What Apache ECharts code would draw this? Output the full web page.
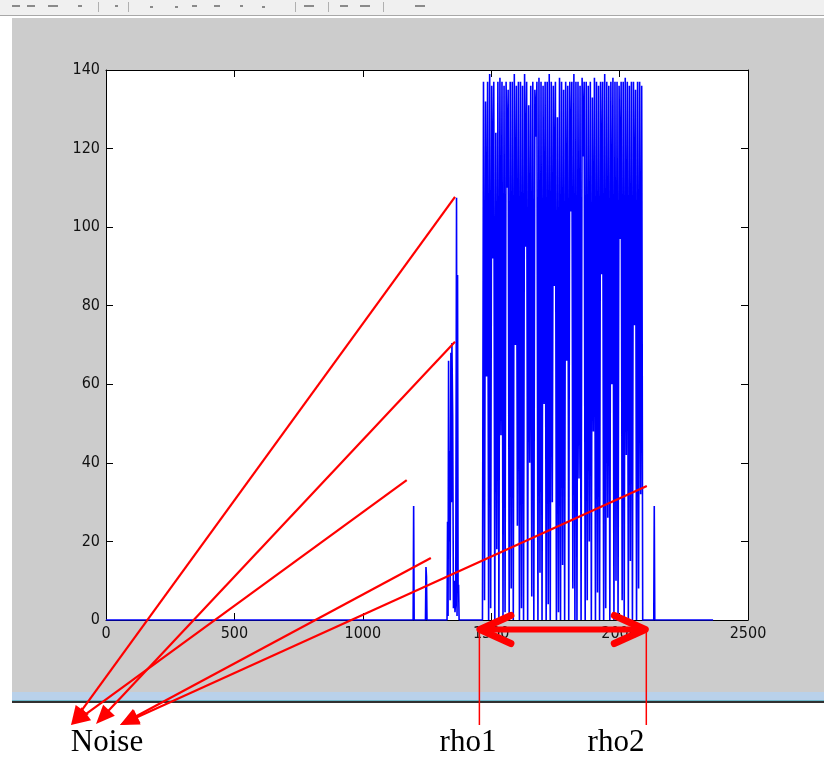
<!DOCTYPE html>
<html><head><meta charset="utf-8">
<script src="https://cdn.jsdelivr.net/npm/echarts@6/dist/echarts.min.js"></script>
<style>html,body{margin:0;padding:0;background:#fff}#c{width:824px;height:757px}</style>
</head><body><div id="c"></div>
<script>
// ---- axis ticks ----
const xTicks = [0, 500, 1000, 1500, 2000, 2500];
const yTicks = [0, 20, 40, 60, 80, 100, 120, 140];

// ---- signal: isolated noise spikes before the burst ----
const noiseX = [0, 1196, 1198, 1200, 1244, 1246, 1248, 1250, 1328, 1330, 1332, 1334, 1336, 1338, 1340, 1343, 1345, 1347, 1350, 1353, 1356, 1359, 1362, 1365, 1367, 1369, 1371, 1373, 1375];
const noiseY = [0, 0, 29, 0, 0, 13.5, 11, 0, 0, 25, 1, 66, 20, 43, 5, 68, 30, 70.5, 52, 3, 10, 2, 5, 107.5, 1, 87.8, 8, 9, 0];

// ---- signal: main burst between rho1 and rho2 ----
const burstX = [1466,1470,1474,1478,1482,1486,1490,1494,1498,1502,1506,1510,1514,1518,1522,1526,1530,1534,1538,1542,1546,1550,1554,1558,1562,1566,1570,1574,1578,1582,1586,1590,1594,1598,1602,1606,1610,1614,1618,1622,1626,1630,1634,1638,1642,1646,1650,1654,1658,1662,1666,1670,1674,1678,1682,1686,1690,1694,1698,1702,1706,1710,1714,1718,1722,1726,1730,1734,1738,1742,1746,1750,1754,1758,1762,1766,1770,1774,1778,1782,1786,1790,1794,1798,1802,1806,1810,1814,1818,1822,1826,1830,1834,1838,1842,1846,1850,1854,1858,1862,1866,1870,1874,1878,1882,1886,1890,1894,1898,1902,1906,1910,1914,1918,1922,1926,1930,1934,1938,1942,1946,1950,1954,1958,1962,1966,1970,1974,1978,1982,1986,1990,1994,1998,2002,2006,2010,2014,2018,2022,2026,2030,2034,2038,2042,2046,2050,2054,2058,2062,2066,2070,2074,2078,2082,2086,2090];
const burstY = [0,137,5,132,62,137,0,139,3,136,92,137,0,124,18,137,0,138,47,137,0,136,2,137,110,135,0,137,8,137,0,139,70,136,24,137,0,137,3,136,0,139,95,137,0,131,40,136,6,137,0,135,123,137,0,138,12,137,0,136,55,137,0,137,4,139,0,137,30,136,85,137,0,128,2,138,0,137,14,135,0,137,66,136,0,137,104,137,8,139,0,137,0,137,36,136,0,138,118,137,0,137,5,136,20,137,0,133,48,138,0,137,7,136,0,137,88,137,0,139,3,137,26,136,0,137,60,138,0,137,10,137,0,136,97,137,5,137,0,138,42,137,0,136,15,137,0,137,75,135,0,137,8,137,32,136,0];

// ---- signal: after the burst ----
const tailX = [2133, 2135, 2137, 2364];
const tailY = [0, 29, 0, 0];

// ---- annotation anchors (data space) ----
const noiseAnchors = [[1359, 107.7], [1171, 35.6], [1359, 70.8], [1265, 15.8], [2106, 34.1]];
const noiseTargetIdx = [0, 0, 1, 2, 2];
const rhoRange = [1456, 2100];
const rhoMarks = [1454, 2104];

const xs = noiseX.concat(burstX, tailX);
const ys = noiseY.concat(burstY, tailY);
const seriesData = xs.map((x, i) => [x, ys[i]]);

const FONT = '"Liberation Sans Narrow","DejaVu Sans Condensed","Liberation Sans",sans-serif';
const chart = echarts.init(document.getElementById('c'), null, {renderer: 'canvas'});

const axisCommon = {
  type: 'value',
  axisLine: {show: true, onZero: false, lineStyle: {color: '#000', width: 1}},
  axisTick: {show: true, inside: true, length: 7, lineStyle: {color: '#000', width: 1}},
  splitLine: {show: false}
};

const bgGraphics = [
  {type: 'rect', z: -100, shape: {x: 0, y: 0, width: 824, height: 16}, style: {fill: '#f0f0f0'}},
  {type: 'rect', z: -99, shape: {x: 0, y: 15, width: 824, height: 1}, style: {fill: '#a8a8a8'}},
  {type: 'rect', z: -99, shape: {x: 12, y: 18, width: 812, height: 675}, style: {fill: '#cccccc'}},
  {type: 'rect', z: -99, shape: {x: 12, y: 692, width: 812, height: 9}, style: {fill: '#b9d1ea'}},
  {type: 'rect', z: -99, shape: {x: 12, y: 700, width: 812, height: 1}, style: {fill: '#6cb6c8'}},
  {type: 'rect', z: -99, shape: {x: 12, y: 701, width: 812, height: 2}, style: {fill: '#303030'}}
];
// toolbar marks
const tbMarks = [[12,5,8],[27,5,8],[48,5,10],[78,5,4],[115,5,3],[150,6,3],[175,6,3],[192,5,5],[214,5,6],[240,5,3],[262,6,3],[304,5,10],[340,5,8],[360,5,10],[415,5,10]];
tbMarks.forEach(m => bgGraphics.push({type: 'rect', z: -98, shape: {x: m[0], y: m[1], width: m[2], height: 2}, style: {fill: '#8a8a8a'}}));
[98, 128, 295, 328, 383].forEach(x => bgGraphics.push({type: 'rect', z: -98, shape: {x: x, y: 2, width: 1, height: 10}, style: {fill: '#b0b0b0'}}));

chart.setOption({
  animation: false,
  backgroundColor: '#ffffff',
  grid: {left: 106, top: 70, width: 642, height: 550, show: true, backgroundColor: '#ffffff', borderWidth: 0},
  xAxis: [
    Object.assign({}, axisCommon, {min: xTicks[0], max: xTicks[xTicks.length - 1], interval: xTicks[1] - xTicks[0], position: 'bottom',
      axisLabel: {show: true, color: '#111', fontSize: 16, fontFamily: FONT, margin: 6, formatter: v => String(v)}}),
    Object.assign({}, axisCommon, {min: xTicks[0], max: xTicks[xTicks.length - 1], interval: xTicks[1] - xTicks[0], position: 'top',
      axisLabel: {show: false}})
  ],
  yAxis: [
    Object.assign({}, axisCommon, {min: yTicks[0], max: yTicks[yTicks.length - 1], interval: yTicks[1] - yTicks[0], position: 'left',
      axisLabel: {show: true, color: '#111', fontSize: 16, fontFamily: FONT, margin: 6, formatter: v => String(v)}}),
    Object.assign({}, axisCommon, {min: yTicks[0], max: yTicks[yTicks.length - 1], interval: yTicks[1] - yTicks[0], position: 'right',
      axisLabel: {show: false}})
  ],
  series: [{
    type: 'line', xAxisIndex: 0, yAxisIndex: 0, data: seriesData,
    showSymbol: false, symbol: 'none', z: 5,
    lineStyle: {color: '#0000ff', width: 1.6}
  }],
  graphic: bgGraphics
});

// ---- annotation overlay ----
const toPx = p => chart.convertToPixel({xAxisIndex: 0, yAxisIndex: 0}, p);
const noiseTips = [[71, 725], [96, 724], [120, 725]];
const ann = [];
const RED = '#ff0000';
function arrowHead(src, tip, L, W) {
  const dx = tip[0] - src[0], dy = tip[1] - src[1];
  const len = Math.hypot(dx, dy);
  const ux = dx / len, uy = dy / len;
  const bx = tip[0] - ux * L, by = tip[1] - uy * L;
  return [tip, [bx - uy * W, by + ux * W], [bx + uy * W, by - ux * W]];
}
noiseAnchors.forEach((a, i) => {
  const s = toPx(a);
  const t = noiseTips[noiseTargetIdx[i]];
  const dx = t[0] - s[0], dy = t[1] - s[1], len = Math.hypot(dx, dy);
  const end = [t[0] - dx / len * 12, t[1] - dy / len * 12];
  ann.push({type: 'line', z: 200, shape: {x1: s[0], y1: s[1], x2: end[0], y2: end[1]}, style: {stroke: RED, lineWidth: 2.2}});
  ann.push({type: 'polygon', z: 201, shape: {points: arrowHead(s, t, 19, 8)}, style: {fill: RED}});
});
const rY = toPx([0, 0])[1] + 9.5;
const r1 = [toPx([rhoRange[0], 0])[0], rY];
const r2 = [toPx([rhoRange[1], 0])[0], rY];
ann.push({type: 'line', z: 200, shape: {x1: r1[0] + 4, y1: rY, x2: r2[0] - 4, y2: rY}, style: {stroke: RED, lineWidth: 6}});
ann.push({type: 'polyline', z: 201, shape: {points: [[r1[0] + 31, rY - 14], [r1[0], rY], [r1[0] + 31, rY + 14]]}, style: {stroke: RED, lineWidth: 7, lineCap: 'round', lineJoin: 'round', fill: null}});
ann.push({type: 'polyline', z: 201, shape: {points: [[r2[0] - 31, rY - 14], [r2[0], rY], [r2[0] - 31, rY + 14]]}, style: {stroke: RED, lineWidth: 7, lineCap: 'round', lineJoin: 'round', fill: null}});
rhoMarks.forEach(v => {
  const x = toPx([v, 0])[0];
  ann.push({type: 'line', z: 200, shape: {x1: x, y1: rY, x2: x, y2: 725}, style: {stroke: RED, lineWidth: 1.5}});
});
const SERIF = '"Liberation Serif","DejaVu Serif",serif';
[['Noise', 107], ['rho1', 468], ['rho2', 616]].forEach(t => {
  ann.push({type: 'text', z: 210, x: t[1], y: 743, style: {text: t[0], fill: '#000', font: '31px ' + SERIF, textAlign: 'center', textVerticalAlign: 'middle', align: 'center', verticalAlign: 'middle'}});
});
chart.setOption({graphic: bgGraphics.concat(ann)});
</script>
</body></html>
